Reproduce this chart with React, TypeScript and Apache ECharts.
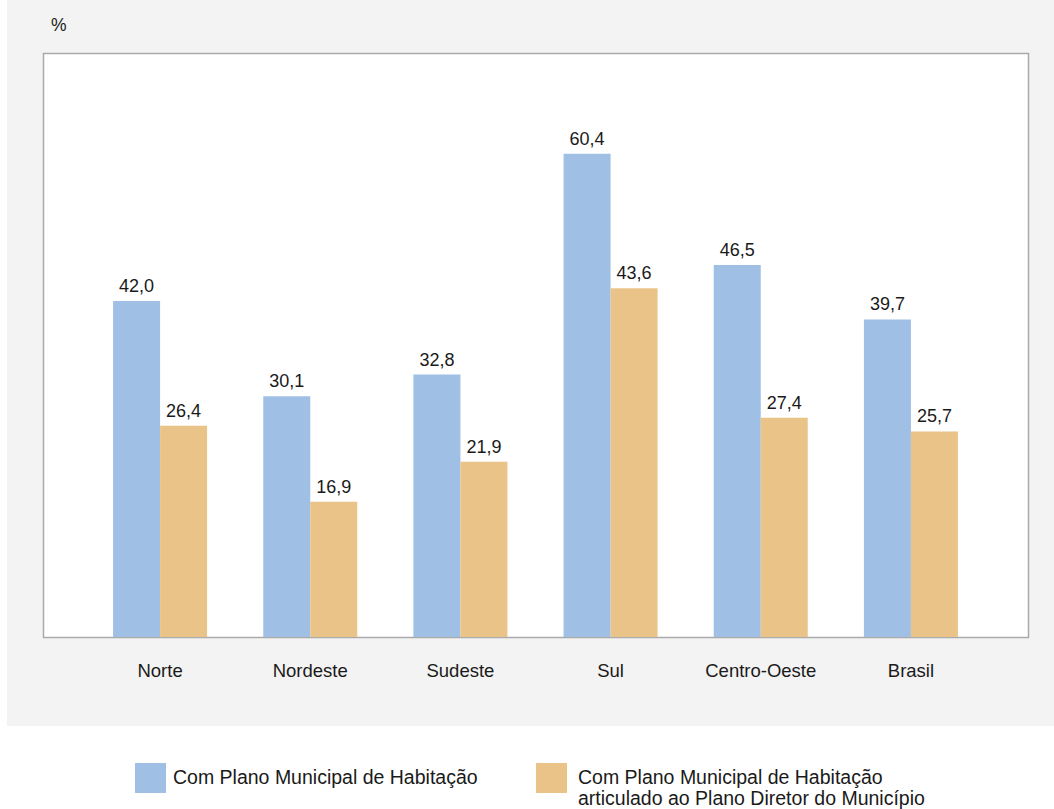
import React, { useEffect, useRef } from "react";
import * as echarts from "echarts";

const categories = ["Norte", "Nordeste", "Sudeste", "Sul", "Centro-Oeste", "Brasil"];
const seriesNames = [
  "Com Plano Municipal de Habitação",
  "Com Plano Municipal de Habitação\narticulado ao Plano Diretor do Município",
];
const planoHabitacao = [42.0, 30.1, 32.8, 60.4, 46.5, 39.7];
const planoArticulado = [26.4, 16.9, 21.9, 43.6, 27.4, 25.7];
const colors = ["#9fbfe5", "#eac388"];

const FONT = "'Liberation Sans', Arial, sans-serif";
const fmt = (v: number) => v.toFixed(1).replace(".", ",");

export default function App() {
  const ref = useRef<HTMLDivElement>(null);
  useEffect(() => {
    if (!ref.current) return;
    const chart = echarts.init(ref.current, undefined, { renderer: "svg" });
    const labelCfg = {
      show: true,
      position: "top" as const,
      distance: 6,
      fontSize: 18,
      fontFamily: FONT,
      color: "#1a1a1a",
      formatter: (p: any) => fmt(p.value),
    };
    chart.setOption({
      animation: false,
      backgroundColor: "#ffffff",
      textStyle: { fontFamily: FONT },
      graphic: [
        { type: "rect", z: -10, shape: { x: 7, y: 0, width: 1047, height: 726 }, style: { fill: "#f3f3f3" } },
        { type: "rect", z: -9, shape: { x: 43.5, y: 53.5, width: 985, height: 584 }, style: { fill: "#ffffff", stroke: "#aaaaaa", lineWidth: 1.5 } },
        { type: "text", x: 51, y: 25, style: { text: "%", fontSize: 17.5, fontFamily: FONT, fill: "#1a1a1a", verticalAlign: "middle" } },
        { type: "rect", shape: { x: 135, y: 763, width: 31, height: 30 }, style: { fill: colors[0] } },
        { type: "text", x: 173, y: 777, style: { text: seriesNames[0], fontSize: 19.5, fontFamily: FONT, fill: "#1a1a1a", verticalAlign: "middle" } },
        { type: "rect", shape: { x: 536, y: 763, width: 31, height: 30 }, style: { fill: colors[1] } },
        { type: "text", x: 578, y: 766, style: { text: seriesNames[1], fontSize: 19.5, lineHeight: 21, fontFamily: FONT, fill: "#1a1a1a", verticalAlign: "top" } },
      ],
      grid: { left: 85, right: 68, top: 53, bottom: 172 },
      xAxis: {
        type: "category",
        data: categories,
        axisLine: { show: false },
        axisTick: { show: false },
        axisLabel: { fontSize: 18.5, fontFamily: FONT, color: "#1a1a1a", margin: 24 },
      },
      yAxis: {
        type: "value",
        min: 0,
        max: 73,
        show: false,
        splitLine: { show: false },
      },
      series: [
        { name: seriesNames[0], type: "bar", data: planoHabitacao, barWidth: 47, barGap: "0%", itemStyle: { color: colors[0] }, label: labelCfg },
        { name: seriesNames[1], type: "bar", data: planoArticulado, barWidth: 47, barGap: "0%", itemStyle: { color: colors[1] }, label: labelCfg },
      ],
    });
    return () => chart.dispose();
  }, []);
  return <div ref={ref} style={{ position: "fixed", left: 0, top: 0, width: 1054, height: 809 }} />;
}
